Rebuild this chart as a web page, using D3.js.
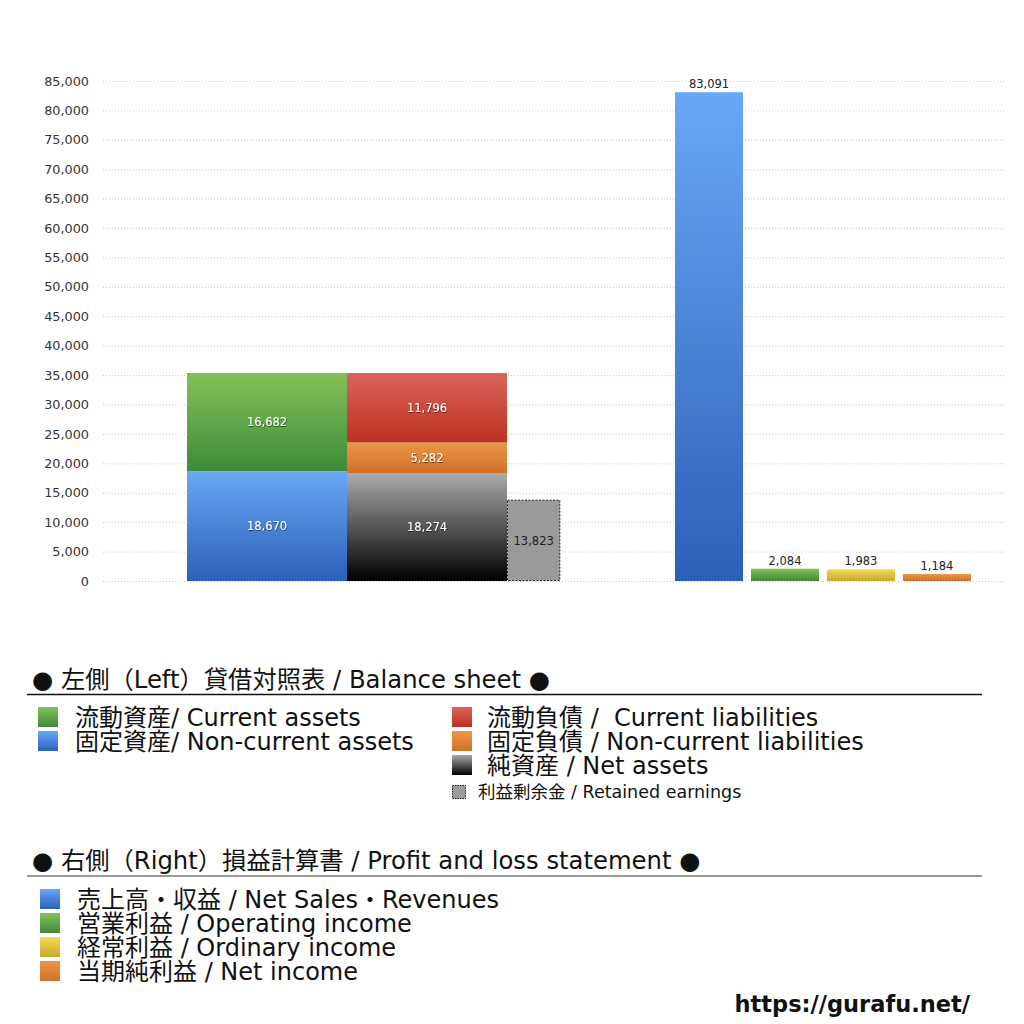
<!DOCTYPE html>
<html><head><meta charset="utf-8">
<script src="https://cdn.jsdelivr.net/npm/d3@7"></script>
<style>body{margin:0;background:#fff}svg{display:block}</style>
</head><body>
<svg id="c" width="1024" height="1024"></svg>
<script>
// ---- data ----
const bsAssetKeys = ["nonCurrentAssets","currentAssets"];
const bsAssetValues = [18670, 16682];
const bsLiabKeys = ["netAssets","nonCurrentLiabilities","currentLiabilities"];
const bsLiabValues = [18274, 5282, 11796];
const retainedEarnings = 13823;
const plKeys = ["revenue","operating","ordinary","net"];
const plValues = [83091, 2084, 1983, 1184];
const yTicks = [0,5000,10000,15000,20000,25000,30000,35000,40000,45000,50000,55000,60000,65000,70000,75000,80000,85000];
const legendLeftA = ["流動資産/ Current assets","固定資産/ Non-current assets"];
const legendLeftB = ["流動負債 /  Current liabilities","固定負債 / Non-current liabilities","純資産 / Net assets"];
const legendRetained = "利益剰余金 / Retained earnings";
const legendRight = ["売上高・収益 / Net Sales・Revenues","営業利益 / Operating income","経常利益 / Ordinary income","当期純利益 / Net income"];
const title1 = "● 左側（Left）貸借対照表 / Balance sheet ●";
const title2 = "● 右側（Right）損益計算書 / Profit and loss statement ●";

const FONT = "'DejaVu Sans','Noto Sans CJK JP',sans-serif";
const svg = d3.select("#c");
const defs = svg.append("defs");
const grads = {
  green:["#84c257","#3e8a3b"], blue:["#68a8f4","#2b60ba"], red:["#da645b","#bd3120"],
  orange:["#ec9646","#d17029"], black:["#aaaaaa","#000000"], yellow:["#f2dc54","#c8a82a"]
};
Object.entries(grads).forEach(([k,[a,b]])=>{
  const g = defs.append("linearGradient").attr("id","g-"+k).attr("x1",0).attr("y1",0).attr("x2",0).attr("y2",1);
  g.append("stop").attr("offset","0%").attr("stop-color",a);
  g.append("stop").attr("offset","100%").attr("stop-color",b);
});
const f = defs.append("filter").attr("id","shadow");
f.append("feDropShadow").attr("dx",0.5).attr("dy",0.8).attr("stdDeviation",0.6).attr("flood-color","#000").attr("flood-opacity",0.6);

const y = d3.scaleLinear().domain([0,85000]).range([581,81]);
const fmt = d3.format(",");

// grid + axis
const axis = svg.append("g").attr("transform","translate(89,0)")
  .call(d3.axisLeft(y).tickValues(yTicks).tickFormat(fmt).tickSize(0).tickPadding(0));
axis.select(".domain").remove();
axis.selectAll("text").attr("font-family",FONT).attr("font-size",12.8).attr("fill","#333");
svg.append("g").selectAll("line").data(yTicks).join("line")
  .attr("x1",103).attr("x2",1005).attr("y1",d=>y(d)+0.5).attr("y2",d=>y(d)+0.5)
  .attr("stroke","#c8c8c8").attr("stroke-width",1).attr("stroke-dasharray","1,2");

// Balance sheet
const xb = d3.scaleBand().domain(["assets","liab"]).range([187,507]).padding(0);
function stack(vals){ let c=0; return vals.map(v=>{const s={y0:c,y1:c+v,v}; c+=v; return s;}); }
const assetCols = ["blue","green"], liabCols = ["black","orange","red"];
const gb = svg.append("g");
stack(bsAssetValues).forEach((s,i)=>{
  gb.append("rect").attr("x",xb("assets")).attr("width",xb.bandwidth())
    .attr("y",y(s.y1)).attr("height",y(s.y0)-y(s.y1)).attr("fill","url(#g-"+assetCols[i]+")");
  gb.append("text").attr("x",xb("assets")+xb.bandwidth()/2).attr("y",(y(s.y0)+y(s.y1))/2+4)
    .attr("text-anchor","middle").attr("font-family",FONT).attr("font-size",11.5).attr("fill","#fff")
    .attr("filter","url(#shadow)").text(fmt(s.v));
});
stack(bsLiabValues).forEach((s,i)=>{
  gb.append("rect").attr("x",xb("liab")).attr("width",xb.bandwidth())
    .attr("y",y(s.y1)).attr("height",y(s.y0)-y(s.y1)).attr("fill","url(#g-"+liabCols[i]+")");
  gb.append("text").attr("x",xb("liab")+xb.bandwidth()/2).attr("y",(y(s.y0)+y(s.y1))/2+4)
    .attr("text-anchor","middle").attr("font-family",FONT).attr("font-size",11.5).attr("fill","#fff")
    .attr("filter","url(#shadow)").text(fmt(s.v));
});
const reX = xb.range()[1], reW = xb.bandwidth()/3;
gb.append("rect").attr("x",reX+0.5).attr("width",reW-1).attr("y",y(retainedEarnings)+0.5)
  .attr("height",y(0)-y(retainedEarnings)-1).attr("fill","#9a9a9a")
  .attr("stroke","#222").attr("stroke-width",1).attr("stroke-dasharray","2,1.5");
gb.append("text").attr("x",reX+reW/2).attr("y",(y(0)+y(retainedEarnings))/2+5)
  .attr("text-anchor","middle").attr("font-family",FONT).attr("font-size",11.5).attr("fill","#222")
  .text(fmt(retainedEarnings));

// P&L
const xp = d3.scaleBand().domain(plKeys).range([675,971]).paddingInner(0.105).paddingOuter(0);
const plCols = ["blue","green","yellow","orange"];
const gp = svg.append("g");
plKeys.forEach((k,i)=>{
  gp.append("rect").attr("x",xp(k)).attr("width",xp.bandwidth()).attr("y",y(plValues[i]))
    .attr("height",y(0)-y(plValues[i])).attr("fill","url(#g-"+plCols[i]+")");
  gp.append("text").attr("x",xp(k)+xp.bandwidth()/2).attr("y",y(plValues[i])-4)
    .attr("text-anchor","middle").attr("font-family",FONT).attr("font-size",11.5).attr("fill","#222")
    .text(fmt(plValues[i]));
});

// Legends
function title(t,yy,lineY,col){
  svg.append("text").attr("x",32).attr("y",yy).attr("font-family",FONT).attr("font-size",24.3).attr("fill","#111").text(t);
  svg.append("line").attr("x1",27).attr("x2",982).attr("y1",lineY).attr("y2",lineY).attr("stroke",col).attr("stroke-width",1.3);
}
title(title1,688,694.5,"#111");
title(title2,869,876,"#777");

function legend(items,cols,x,y0,step,sw,fs,tx){
  items.forEach((t,i)=>{
    const cy=y0+i*step;
    svg.append("rect").attr("x",x).attr("y",cy-sw/2).attr("width",sw).attr("height",sw).attr("fill","url(#g-"+cols[i]+")");
    svg.append("text").attr("x",tx).attr("y",cy+8.5).attr("font-family",FONT).attr("font-size",fs)
      .attr("fill","#111").style("white-space","pre").text(t);
  });
}
legend(legendLeftA,["green","blue"],38,717,24,20,24,75);
legend(legendLeftB,["red","orange","black"],452,717,24,20,24,487);
legend(legendRight,["blue","green","yellow","orange"],40,899,24,20,24,77);
svg.append("rect").attr("x",452.5).attr("y",785.5).attr("width",13).attr("height",13).attr("fill","#9a9a9a")
  .attr("stroke","#222").attr("stroke-dasharray","1.5,1");
svg.append("text").attr("x",478).attr("y",798).attr("font-family",FONT).attr("font-size",17.5).attr("fill","#111").text(legendRetained);

svg.append("text").attr("x",970).attr("y",1012).attr("text-anchor","end").attr("font-family",FONT)
  .attr("font-size",22.5).attr("font-weight","bold").attr("fill","#111").text("https://gurafu.net/");
</script>
</body></html>
